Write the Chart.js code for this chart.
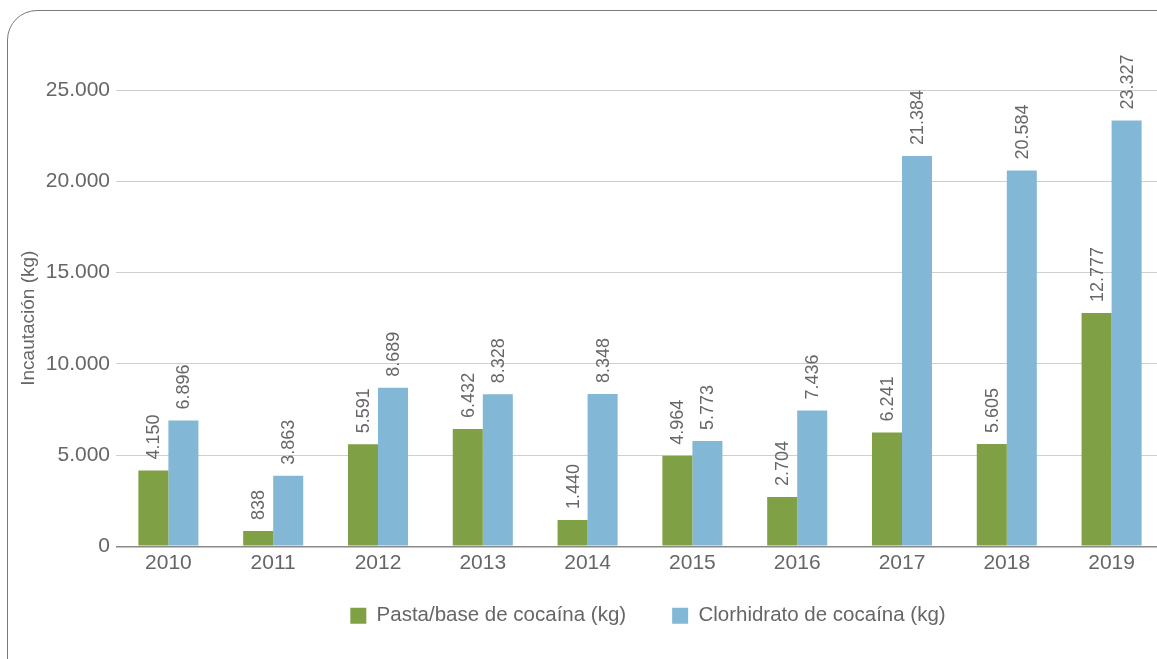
<!DOCTYPE html>
<html>
<head>
<meta charset="utf-8">
<script src="https://cdn.jsdelivr.net/npm/chart.js@4"></script>
<style>
  html, body { margin: 0; padding: 0; background: #fff; overflow: hidden; width: 1157px; height: 659px; }
  #frame {
    position: absolute; left: 7px; top: 10px; width: 1200px; height: 700px;
    border: 1.5px solid #7a7a7a; border-radius: 30px; box-sizing: border-box;
  }
  #wrap { position: absolute; left: 0; top: 0; width: 1180px; height: 659px; }
</style>
</head>
<body>
<div id="frame"></div>
<div id="wrap"><canvas id="seizureChart" width="1180" height="659"></canvas></div>
<script>
// Data
const years = ['2010', '2011', '2012', '2013', '2014', '2015', '2016', '2017', '2018', '2019'];
const pastaBase = [4150, 838, 5591, 6432, 1440, 4964, 2704, 6241, 5605, 12777];
const clorhidrato = [6896, 3863, 8689, 8328, 8348, 5773, 7436, 21384, 20584, 23327];
const seriesNames = ['Pasta/base de cocaína (kg)', 'Clorhidrato de cocaína (kg)'];
const yTicks = [0, 5000, 10000, 15000, 20000, 25000];

const fontFamily = '"Liberation Sans", Arial, sans-serif';
const textGray = '#666';

// thousands with a dot, e.g. 12.777
function fmt(v) {
    return String(v).replace(/\B(?=(\d{3})+(?!\d))/g, '.');
}

// draws the rotated value above every bar
const barValueLabels = {
    id: 'barValueLabels',
    afterDatasetsDraw(chart) {
        const ctx = chart.ctx;
        ctx.save();
        ctx.font = '18px ' + fontFamily;
        ctx.fillStyle = textGray;
        ctx.textAlign = 'left';
        ctx.textBaseline = 'middle';
        chart.data.datasets.forEach(function(ds, i) {
            chart.getDatasetMeta(i).data.forEach(function(bar, j) {
                ctx.save();
                ctx.translate(bar.x, bar.y - 11);
                ctx.rotate(-Math.PI / 2);
                ctx.fillText(fmt(ds.data[j]), 0, 1);
                ctx.restore();
            });
        });
        ctx.restore();
    }
};

// the legend keeps wide gaps between items but sits closer to the axis
const legendNudge = {
    id: 'legendNudge',
    afterLayout(chart) {
        const lg = chart.legend;
        lg.top -= 20; lg.bottom -= 20;
        lg.left += 8; lg.right += 8;
    }
};

const ctx = document.getElementById('seizureChart').getContext('2d');
new Chart(ctx, {
    type: 'bar',
    data: {
        labels: years,
        datasets: [{
            label: seriesNames[0],
            data: pastaBase,
            backgroundColor: '#80a045',
            borderWidth: 0
        }, {
            label: seriesNames[1],
            data: clorhidrato,
            backgroundColor: '#82b8d5',
            borderWidth: 0
        }]
    },
    options: {
        responsive: false,
        animation: false,
        layout: { padding: { top: 90, right: 16, bottom: 3, left: 0 } },
        datasets: {
            bar: { categoryPercentage: 0.573, barPercentage: 1.0 }
        },
        scales: {
            x: {
                grid: { display: false, drawTicks: false },
                border: { display: false },
                ticks: {
                    color: textGray,
                    font: { family: fontFamily, size: 21 },
                    padding: 4
                }
            },
            y: {
                min: 0,
                max: 25000,
                afterBuildTicks(scale) {
                    scale.ticks = yTicks.map(function(v) { return { value: v }; });
                },
                afterFit(scale) { scale.width = 116; },
                grid: {
                    drawTicks: false,
                    color: function(c) { return c.tick && c.tick.value === 0 ? '#8a8a8a' : '#cfcfcf'; },
                    lineWidth: function(c) { return c.tick && c.tick.value === 0 ? 1.5 : 1; }
                },
                border: { display: false },
                ticks: {
                    color: textGray,
                    font: { family: fontFamily, size: 21 },
                    padding: 6,
                    callback: function(v) { return fmt(v); }
                },
                title: {
                    display: true,
                    text: 'Incautación (kg)',
                    color: textGray,
                    font: { family: fontFamily, size: 19 },
                    padding: { top: 17, bottom: 0 }
                }
            }
        },
        plugins: {
            legend: {
                position: 'bottom',
                fullSize: false,
                labels: {
                    color: textGray,
                    font: { family: fontFamily, size: 20.5 },
                    boxWidth: 16,
                    boxHeight: 16,
                    padding: 46
                }
            },
            tooltip: { enabled: false }
        }
    },
    plugins: [barValueLabels, legendNudge]
});
</script>
</body>
</html>
